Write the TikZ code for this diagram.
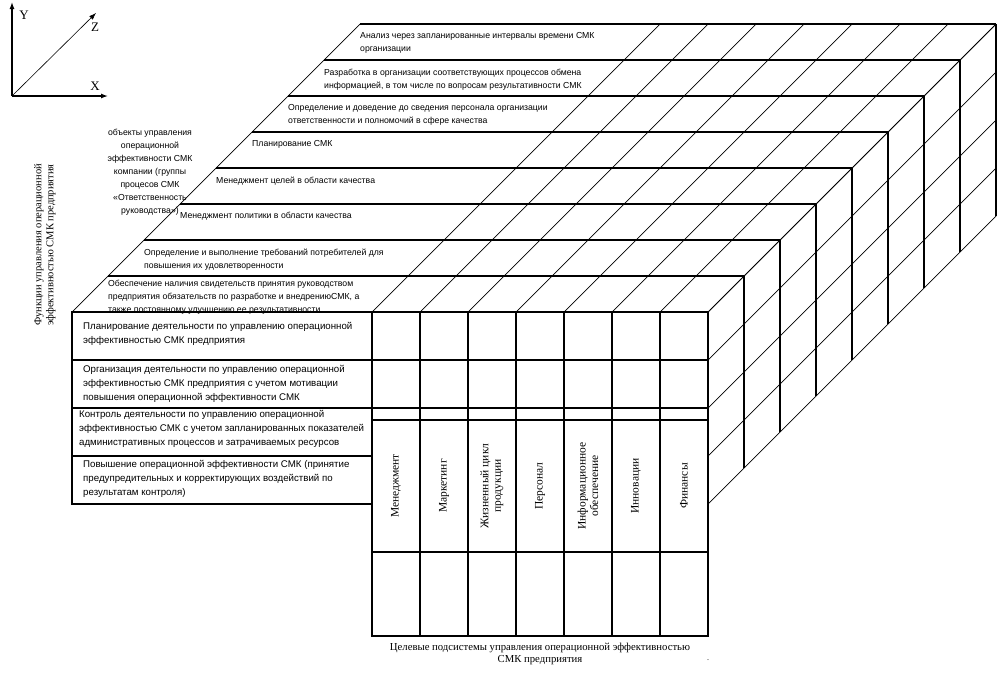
\documentclass[tikz,border=0pt]{standalone}
\usepackage{fontspec}
\setmainfont{Liberation Serif}
\newfontfamily\arialf{Liberation Sans}
\usetikzlibrary{arrows.meta}
\begin{document}
\begin{tikzpicture}[x=1pt,y=-1pt,
  edge/.style={line width=1.5pt},
  diag/.style={line width=0.7pt},
  axis/.style={line width=1.3pt,-{Latex[length=7pt,width=5pt]}},
  band/.style={anchor=north west, align=left, inner sep=0pt, font=\arialf\fontsize{8.7}{13}\selectfont},
  rowlbl/.style={anchor=north west, align=left, inner sep=0pt, font=\arialf\fontsize{9.7}{13.8}\selectfont},
  collbl/.style={rotate=90, align=center, inner sep=0pt, font=\fontsize{11.5}{12.5}\selectfont},
  axlbl/.style={inner sep=0pt, font=\fontsize{13}{13}\selectfont},
]
\useasboundingbox (0,0) rectangle (998,673);
\fill[white] (0,0) rectangle (998,673);

% axes
\coordinate (O) at (12,96);
\coordinate (Ytip) at (12,2);
\coordinate (Xtip) at (108,96);
\coordinate (Ztip) at (96,13);
\draw[axis] (O) -- (Ytip);
\draw[axis] (O) -- (Xtip);
\draw[line width=0.6pt,-{Latex[length=7pt,width=5pt]}] (O) -- (Ztip);
\node[axlbl] (ly) at (24,15) {Y};
\node[axlbl] (lz) at (95,27) {Z};
\node[axlbl] (lx) at (95,86) {X};

% top face: layer boundaries
\foreach \k in {1,...,8}
  \draw[edge] ({72+36*\k},{312-36*\k}) -- ({708+36*\k},{312-36*\k});
% top face: receding lines
\foreach \x in {72,372,420,468,516,564,612,660,708}
  \draw[diag] (\x,312) -- ({\x+288},24);
% right face: layer boundaries
\foreach \k in {1,...,8}
  \draw[edge] ({708+36*\k},{312-36*\k}) -- ({708+36*\k},{504-36*\k});
% right face: receding lines
\foreach \y in {312,360,408,456,504}
  \draw[diag] (708,\y) -- (996,{\y-288});

% front face: row panel
\draw[edge] (72,312) rectangle (372,504);
\foreach \y in {360,408,456}
  \draw[edge] (72,\y) -- (372,\y);
% front face: column grid
\draw[edge] (372,312) rectangle (708,636);
\foreach \x in {420,468,516,564,612,660}
  \draw[edge] (\x,312) -- (\x,636);
\foreach \y in {360,408,420,552}
  \draw[edge] (372,\y) -- (708,\y);

% band texts (top face)
\node[band] (b1) at (108,280) {Обеспечение наличия свидетельств принятия руководством\\предприятия обязательств по разработке и внедрениюСМК, а\\также постоянному улучшению ее результативности};
\node[band] (b2) at (144,249) {Определение и выполнение требований потребителей для\\повышения их удовлетворенности};
\node[band] (b3) at (180,212) {Менеджмент политики в области качества};
\node[band] (b4) at (216,177) {Менеджмент целей в области качества};
\node[band] (b5) at (252,140) {Планирование СМК};
\node[band] (b6) at (288,104) {Определение и доведение до сведения персонала организации\\ответственности и полномочий в сфере качества};
\node[band] (b7) at (324,69) {Разработка в организации соответствующих процессов обмена\\информацией, в том числе по вопросам результативности СМК};
\node[band] (b8) at (360,32) {Анализ через запланированные интервалы времени СМК\\организации};

% object label
\node[anchor=north, align=center, inner sep=0pt, font=\arialf\fontsize{8.7}{13}\selectfont] (obj) at (150,129)
  {объекты управления\\операционной\\эффективности СМК\\компании (группы\\процесов СМК\\«Ответственность\\руководства»)};

% row texts (front face)
\node[rowlbl] (r1) at (83,322) {Планирование деятельности по управлению операционной\\эффективностью СМК предприятия};
\node[rowlbl] (r2) at (83,365) {Организация деятельности по управлению операционной\\эффективностью СМК предприятия с учетом мотивации\\повышения операционной эффективности СМК};
\node[rowlbl] (r3) at (79,410) {Контроль деятельности по управлению операционной\\эффективностью СМК с учетом запланированных показателей\\административных процессов и затрачиваемых ресурсов};
\node[rowlbl] (r4) at (83,460) {Повышение операционной эффективности СМК (принятие\\предупредительных и корректирующих воздействий по\\результатам контроля)};

% column labels
\node[collbl] (c1) at (396,486) {Менеджмент};
\node[collbl] (c2) at (444,486) {Маркетинг};
\node[collbl] (c3) at (492,486) {Жизненный цикл\\продукции};
\node[collbl] (c4) at (540,486) {Персонал};
\node[collbl] (c5) at (588,486) {Информационное\\обеспечение};
\node[collbl] (c6) at (636,486) {Инновации};
\node[collbl] (c7) at (684,486) {Финансы};

% axis titles
\node[rotate=90, align=center, inner sep=0pt, font=\fontsize{10.5}{12}\selectfont] (fy) at (45,245)
  {Функции управления операционной\\эффективностью СМК предприятия};
\node[align=center, inner sep=0pt, font=\fontsize{10.7}{12}\selectfont] (fx) at (540,654)
  {Целевые подсистемы управления операционной эффективностью\\СМК предприятия};
\node[inner sep=0pt, font=\fontsize{8}{8}\selectfont] (dot) at (708,660) {.};
\end{tikzpicture}
\end{document}
